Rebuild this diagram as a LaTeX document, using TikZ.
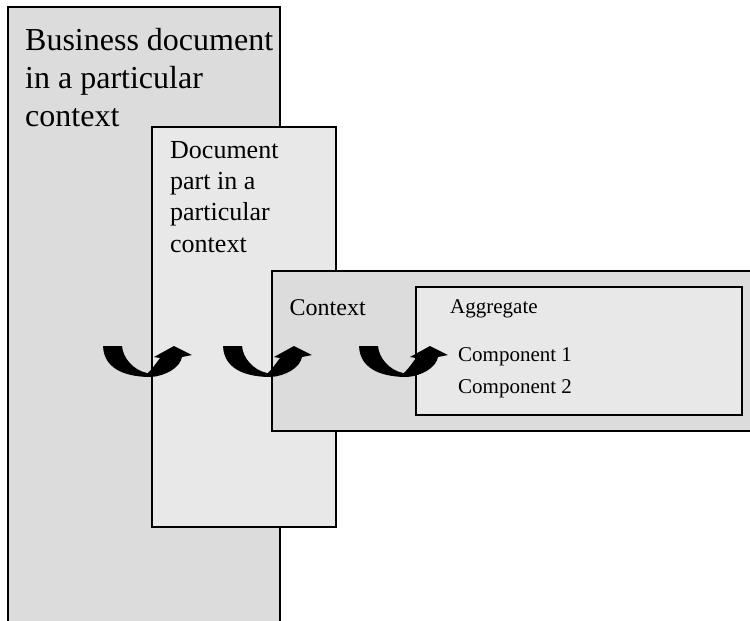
\documentclass[tikz,border=0pt]{standalone}
\usepackage{fontspec}
\setmainfont{Liberation Serif}
\usetikzlibrary{positioning}

\definecolor{boxdark}{gray}{0.863}
\definecolor{boxlight}{gray}{0.91}

\tikzset{
	box/.style={draw=black, line width=1.5pt},
	label/.style={anchor=base west, align=left, inner sep=0pt},
	uturn/.pic={
		\fill[black] (0,0) -- (19,0) .. controls (20,12) and (30,24) .. (44,27)
			-- (45,27) .. controls (50,22) and (54,16) .. (57,12) -- (51,11) -- (71,0) -- (89,9)
			-- (79,11) .. controls (77,22) and (62,30) .. (48,31)
			.. controls (28,31) and (1,26) .. (0,0) -- cycle;
	}
}

\begin{document}
\begin{tikzpicture}[x=1pt,y=-1pt]

	\clip (0,0) rectangle (750,621);

	% nested boxes
	\draw[box,fill=boxdark] (8,7) rectangle (280,640);
	\draw[box,fill=boxlight] (152,127) rectangle (336,527);
	\draw[box,fill=boxdark] (272,271) rectangle (770,431);
	\draw[box,fill=boxlight] (416,287) rectangle (742,415);

	% labels (anchored at the baseline of the last line)
	\node[label, font=\fontsize{32}{38}\selectfont] (business) at (25,126) {Business document\\in a particular\\context};
	\node[label, font=\fontsize{26}{31.2}\selectfont] (docpart) at (170,252) {Document\\part in a\\particular\\context};
	\node[label, font=\fontsize{24}{28}\selectfont] (context) at (289.5,315) {Context};
	\node[label, font=\fontsize{21}{25}\selectfont] (aggregate) at (450,313) {Aggregate};
	\node[label, font=\fontsize{21}{31.7}\selectfont] (components) at (458,393) {Component 1\\Component 2};

	% curved arrows
	\pic at (103,346) {uturn};
	\pic at (223,346) {uturn};
	\pic at (359,346) {uturn};

\end{tikzpicture}
\end{document}
